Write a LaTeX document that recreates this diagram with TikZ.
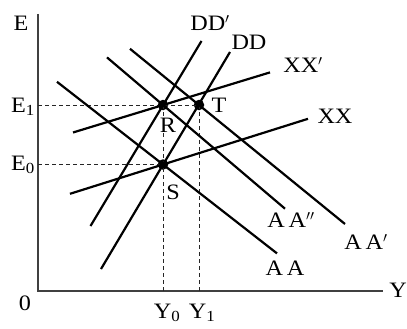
\documentclass[tikz,border=0pt]{standalone}
\usepackage{fontspec}
\setmainfont{Liberation Serif}[FakeStretch=1.1]
\usetikzlibrary{calc}
\begin{document}
\begin{tikzpicture}[x=1pt,y=-1pt,
  curve/.style={line width=2.2pt,black},
  axisline/.style={line width=1.3pt,black!75},
  guide/.style={line width=0.9pt,dash pattern=on 4pt off 3pt,black!85},
  pt/.style={circle,fill=black,inner sep=0pt,minimum size=10.5pt},
  lbl/.style={inner sep=0pt,font=\fontsize{22}{26}\selectfont}]
\useasboundingbox (0,0) rectangle (407,329);
% points
\node[pt] (R) at (163,105) {};
\node[pt] (T) at (199,105) {};
\node[pt] (S) at (163,164.5) {};
% axes
\coordinate (O) at (38,291);
\coordinate (Etop) at (38,14);
\coordinate (Yend) at (383,291);
\draw[axisline] (Etop) -- (O) -- (Yend);
% guides
\coordinate (E1a) at (38,105);
\coordinate (E0a) at (38,164.5);
\coordinate (Y0a) at (163,291);
\coordinate (Y1a) at (199,291);
\draw[guide] (E1a) -- (T.center);
\draw[guide] (E0a) -- (S.center);
\draw[guide] (R.center) -- (Y0a);
\draw[guide] (T.center) -- (Y1a);
% curves
\coordinate (DDa) at (101,269); \coordinate (DDb) at (230,52);
\coordinate (DDpa) at (90.5,226); \coordinate (DDpb) at (201.5,41);
\coordinate (XXpa) at (73,132.5); \coordinate (XXpb) at (270,72.4);
\coordinate (XXa) at (70,193.8); \coordinate (XXb) at (308,118.8);
\coordinate (AAa) at (57,81.8); \coordinate (AAb) at (277,253.4);
\coordinate (AAppa) at (107,57.4); \coordinate (AAppb) at (285,208.7);
\coordinate (AApa) at (130,48.8); \coordinate (AApb) at (345,224);
\draw[curve] (DDa) -- (DDb);
\draw[curve] (DDpa) -- (DDpb);
\draw[curve] (XXpa) -- (XXpb);
\draw[curve] (XXa) -- (XXb);
\draw[curve] (AAa) -- (AAb);
\draw[curve] (AAppa) -- (AAppb);
\draw[curve] (AApa) -- (AApb);
% labels
\node[lbl] (lE) at (21,23) {E};
\node[lbl] (lE1) at (23,107) {E\textsubscript{1}};
\node[lbl] (lE0) at (23,165) {E\textsubscript{0}};
\node[lbl] (l0) at (25,303) {0};
\node[lbl] (lY) at (398,290) {Y};
\node[lbl] (lY0) at (167,313) {Y\textsubscript{0}};
\node[lbl] (lY1) at (202,313) {Y\textsubscript{1}};
\node[lbl] (lDDp) at (210,23) {DD$'$};
\node[lbl] (lDD) at (249,42) {DD};
\node[lbl] (lXXp) at (303,65) {XX$'$};
\node[lbl] (lXX) at (335,116) {XX};
\node[lbl] (lAApp) at (291,220) {A\,A$''$};
\node[lbl] (lAAp) at (366,242) {A\,A$'$};
\node[lbl] (lAA) at (285,268) {A\,A};
\node[lbl] (lR) at (168,125) {R};
\node[lbl] (lT) at (219,105) {T};
\node[lbl] (lS) at (173,192) {S};
\end{tikzpicture}
\end{document}
